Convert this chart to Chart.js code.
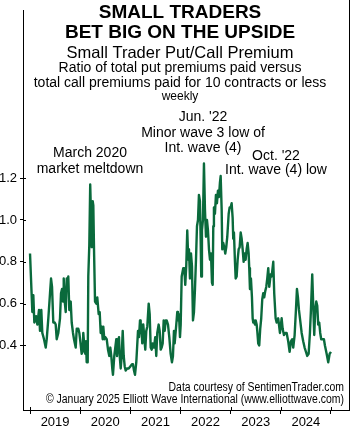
<!DOCTYPE html>
<html>
<head>
<meta charset="utf-8">
<script src="https://cdn.jsdelivr.net/npm/chart.js@4.4.1/dist/chart.umd.min.js"></script>
<style>
  html, body { margin: 0; padding: 0; background: #fff; }
  #wrap { width: 360px; height: 427px; position: relative; }
</style>
</head>
<body>
<div id="wrap"><canvas id="chart"></canvas></div>
<script>
// weekly readings, x as decimal year
const weekDates = [
  2019.000,2019.046,2019.066,2019.086,2019.120,2019.146,2019.179,2019.199,2019.225,2019.245,
  2019.279,2019.313,2019.333,2019.365,2019.399,2019.419,2019.439,2019.464,2019.492,2019.512,
  2019.532,2019.564,2019.598,2019.618,2019.638,2019.658,2019.672,2019.692,2019.712,2019.732,
  2019.751,2019.763,2019.783,2019.811,2019.831,2019.857,2019.877,2019.911,2019.931,2019.963,
  2019.983,2020.003,2020.030,2020.050,2020.062,2020.082,2020.102,2020.116,2020.130,2020.150,
  2020.162,2020.182,2020.200,2020.216,2020.230,2020.250,2020.262,2020.276,2020.296,2020.322,
  2020.341,2020.369,2020.389,2020.409,2020.429,2020.449,2020.461,2020.481,2020.501,2020.529,
  2020.555,2020.581,2020.601,2020.620,2020.640,2020.654,2020.680,2020.700,2020.720,2020.734,
  2020.754,2020.774,2020.788,2020.808,2020.828,2020.848,2020.868,2020.888,2020.907,2020.933,
  2020.967,2020.999,2021.033,2021.053,2021.073,2021.093,2021.119,2021.153,2021.173,2021.193,
  2021.206,2021.218,2021.238,2021.258,2021.278,2021.298,2021.318,2021.338,2021.366,2021.386,
  2021.406,2021.426,2021.446,2021.472,2021.497,2021.517,2021.537,2021.565,2021.585,2021.605,
  2021.625,2021.645,2021.665,2021.685,2021.705,2021.725,2021.751,2021.777,2021.804,2021.830,
  2021.850,2021.870,2021.884,2021.916,2021.936,2021.950,2021.970,2021.990,2022.004,2022.024,
  2022.056,2022.076,2022.095,2022.115,2022.135,2022.155,2022.169,2022.189,2022.209,2022.229,
  2022.249,2022.269,2022.289,2022.309,2022.329,2022.349,2022.368,2022.388,2022.402,2022.414,
  2022.428,2022.448,2022.468,2022.488,2022.508,2022.528,2022.548,2022.568,2022.588,2022.608,
  2022.628,2022.642,2022.654,2022.667,2022.687,2022.707,2022.727,2022.747,2022.767,2022.787,
  2022.801,2022.821,2022.833,2022.853,2022.873,2022.893,2022.913,2022.933,2022.961,2022.980,
  2023.000,2023.020,2023.040,2023.052,2023.066,2023.086,2023.100,2023.120,2023.140,2023.160,
  2023.180,2023.200,2023.220,2023.240,2023.259,2023.279,2023.299,2023.319,2023.339,2023.359,
  2023.371,2023.385,2023.405,2023.425,2023.439,2023.451,2023.465,2023.485,2023.499,2023.519,
  2023.531,2023.550,2023.570,2023.590,2023.610,2023.630,2023.650,2023.670,2023.690,2023.710,
  2023.730,2023.750,2023.770,2023.798,2023.818,2023.850,2023.869,2023.897,2023.917,2023.949,
  2023.983,2024.017,2024.037,2024.063,2024.089,2024.117,2024.148,2024.176,2024.202,2024.228,
  2024.248,2024.276,2024.302,2024.322,2024.342,2024.362,2024.382,2024.416,2024.447,2024.475,
  2024.501,2024.527,2024.555,2024.581,2024.601,2024.627,2024.647,2024.667,2024.687,2024.707,
  2024.727,2024.746,2024.766,2024.786,2024.806,2024.834,2024.860,2024.880,2024.914,2024.946,
  2024.974,2025.000
];
const putCallRatio = [
  0.84,0.56,0.64,0.51,0.54,0.50,0.57,0.47,0.57,0.46,
  0.43,0.39,0.43,0.53,0.65,0.72,0.68,0.51,0.51,0.50,
  0.43,0.46,0.53,0.65,0.67,0.61,0.72,0.61,0.56,0.72,
  0.67,0.73,0.57,0.61,0.51,0.46,0.43,0.39,0.48,0.48,
  0.46,0.42,0.36,0.37,0.46,0.40,0.36,0.42,0.32,0.32,
  0.73,0.88,1.17,1.02,0.87,1.09,1.07,0.86,0.61,0.60,
  0.63,0.55,0.56,0.46,0.49,0.43,0.49,0.43,0.44,0.43,
  0.38,0.35,0.39,0.35,0.29,0.26,0.35,0.39,0.43,0.35,
  0.41,0.44,0.35,0.29,0.35,0.47,0.35,0.30,0.28,0.29,
  0.29,0.30,0.31,0.31,0.28,0.26,0.32,0.47,0.44,0.52,
  0.46,0.50,0.41,0.50,0.44,0.38,0.47,0.49,0.60,0.55,
  0.39,0.38,0.41,0.39,0.44,0.35,0.46,0.50,0.47,0.38,
  0.39,0.41,0.52,0.47,0.52,0.52,0.50,0.44,0.36,0.32,
  0.35,0.47,0.41,0.50,0.56,0.52,0.55,0.44,0.50,0.73,
  0.77,0.77,0.69,0.78,0.95,0.81,0.86,0.72,0.84,0.78,
  0.52,0.56,0.67,0.81,0.97,1.00,1.12,1.09,0.91,0.73,
  0.95,1.00,1.27,1.05,0.92,1.00,0.95,0.86,0.81,0.84,
  0.70,0.69,0.97,1.06,1.03,1.12,1.08,1.14,1.11,1.18,
  1.21,1.05,0.86,0.89,0.87,0.84,0.87,0.92,1.03,1.06,
  1.06,1.08,1.01,0.91,0.94,0.80,0.72,0.73,0.81,0.86,
  0.87,0.94,0.91,0.86,0.80,0.84,0.81,0.86,0.89,0.84,
  0.77,0.67,0.72,0.63,0.53,0.51,0.52,0.50,0.52,0.50,
  0.47,0.41,0.40,0.48,0.53,0.62,0.65,0.63,0.66,0.68,
  0.72,0.77,0.68,0.74,0.73,0.80,0.65,0.53,0.51,0.53,
  0.46,0.53,0.48,0.45,0.46,0.46,0.42,0.37,0.42,0.43,
  0.39,0.45,0.57,0.67,0.63,0.57,0.53,0.46,0.42,0.39,
  0.37,0.35,0.36,0.46,0.57,0.74,0.59,0.45,0.57,0.61,
  0.59,0.50,0.51,0.46,0.43,0.43,0.43,0.40,0.36,0.32,
  0.36,0.37
];
const yearTicks = [2019, 2020, 2021, 2022, 2023, 2024, 2025];
const yearLabels = ["2019", "2020", "2021", "2022", "2023", "2024"];
const valueTicks = [0.4, 0.6, 0.8, 1.0, 1.2];

const titleLines = ["SMALL TRADERS", "BET BIG ON THE UPSIDE"];
const subtitle = "Small Trader Put/Call Premium";
const descLines = ["Ratio of total put premiums paid versus", "total call premiums paid for 10 contracts or less"];
const freqLabel = "weekly";
const noteMarch = ["March 2020", "market meltdown"];
const noteJune = ["Jun. '22", "Minor wave 3 low of", "Int. wave (4)"];
const noteOct = ["Oct. '22", "Int. wave (4) low"];
const sourceLines = ["Data courtesy of SentimenTrader.com", "\u00a9 January 2025 Elliott Wave International (www.elliottwave.com)"];

const FONT = '"Liberation Sans", Arial, Helvetica, sans-serif';
const midYears = yearLabels.map(l => Number(l) + 0.5);

const frameAndText = {
  id: "frameAndText",
  afterDraw(chart) {
    const ctx = chart.ctx;
    const area = chart.chartArea;
    const x = chart.scales.x, y = chart.scales.y;
    ctx.save();
    ctx.strokeStyle = "#000";
    ctx.lineWidth = 1;
    // right frame line
    ctx.beginPath();
    ctx.moveTo(Math.round(area.right) + 0.5, 0);
    ctx.lineTo(Math.round(area.right) + 0.5, area.bottom);
    ctx.stroke();
    // inner halves of tick marks
    ctx.beginPath();
    valueTicks.forEach(v => {
      const py = Math.round(y.getPixelForValue(v)) + 0.5;
      ctx.moveTo(area.left, py);
      ctx.lineTo(area.left + 3, py);
    });
    yearTicks.forEach(v => {
      const px = Math.round(x.getPixelForValue(v)) + 0.5;
      ctx.moveTo(px, area.bottom);
      ctx.lineTo(px, area.bottom - 3);
    });
    ctx.stroke();

    ctx.fillStyle = "#000";
    ctx.textAlign = "center";
    ctx.textBaseline = "alphabetic";
    const cx = 180;
    ctx.font = "bold 19px " + FONT;
    ctx.fillText(titleLines[0], cx, 18);
    ctx.fillText(titleLines[1], cx, 38);
    ctx.font = "16.5px " + FONT;
    ctx.fillText(subtitle, cx, 58);
    ctx.font = "14px " + FONT;
    ctx.fillText(descLines[0], cx, 72);
    ctx.fillText(descLines[1], cx, 87);
    ctx.font = "12px " + FONT;
    ctx.fillText(freqLabel, cx, 100);

    ctx.font = "14px " + FONT;
    noteMarch.forEach((t, i) => ctx.fillText(t, 90, 157 + i * 15.5));
    noteJune.forEach((t, i) => ctx.fillText(t, 203, 121 + i * 15.5));
    noteOct.forEach((t, i) => ctx.fillText(t, 276, 160 + i * 13.5));

    // source lines, slightly condensed
    ctx.textAlign = "right";
    ctx.font = "12px " + FONT;
    ctx.save();
    ctx.scale(0.87, 1);
    ctx.fillText(sourceLines[0], 344 / 0.87, 391);
    ctx.fillText(sourceLines[1], 344 / 0.87, 402.5);
    ctx.restore();
    ctx.restore();
  }
};

new Chart(document.getElementById("chart"), {
  type: "line",
  data: {
    datasets: [{
      data: weekDates.map((d, i) => ({ x: d, y: putCallRatio[i] })),
      borderColor: "#0a6a3c",
      borderWidth: 2.4,
      borderJoinStyle: "round",
      pointRadius: 0,
      tension: 0,
      fill: false
    }]
  },
  options: {
    responsive: true,
    maintainAspectRatio: false,
    devicePixelRatio: 1,
    animation: false,
    layout: { padding: { top: 0, right: 11, bottom: 0, left: 0 } },
    plugins: { legend: { display: false }, tooltip: { enabled: false } },
    scales: {
      x: {
        type: "linear",
        min: 2018.86,
        max: 2025.36,
        afterFit: s => { s.height = 17; },
        afterBuildTicks: s => {
          s.ticks = yearTicks.concat(midYears).sort((a, b) => a - b).map(v => ({ value: v }));
        },
        grid: {
          drawOnChartArea: false,
          tickLength: 4,
          tickWidth: 1,
          tickColor: c => Number.isInteger(c.tick && c.tick.value) ? "#000" : "rgba(0,0,0,0)"
        },
        border: { display: true, color: "#000", width: 1 },
        ticks: {
          autoSkip: false,
          maxRotation: 0,
          padding: 1,
          color: "#000",
          font: { family: FONT, size: 13 },
          callback: v => Number.isInteger(v) ? "" : String(Math.floor(v))
        }
      },
      y: {
        min: 0.0916,
        max: 2.0,
        afterFit: s => { s.width = 23; },
        afterBuildTicks: s => { s.ticks = valueTicks.map(v => ({ value: v })); },
        grid: { drawOnChartArea: false, tickLength: 3, color: "#000", tickColor: "#000" },
        border: { display: true, color: "#000", width: 1 },
        ticks: {
          padding: 3,
          color: "#000",
          font: { family: FONT, size: 13 },
          callback: v => v.toFixed(1)
        }
      }
    }
  },
  plugins: [frameAndText]
});
</script>
</body>
</html>
